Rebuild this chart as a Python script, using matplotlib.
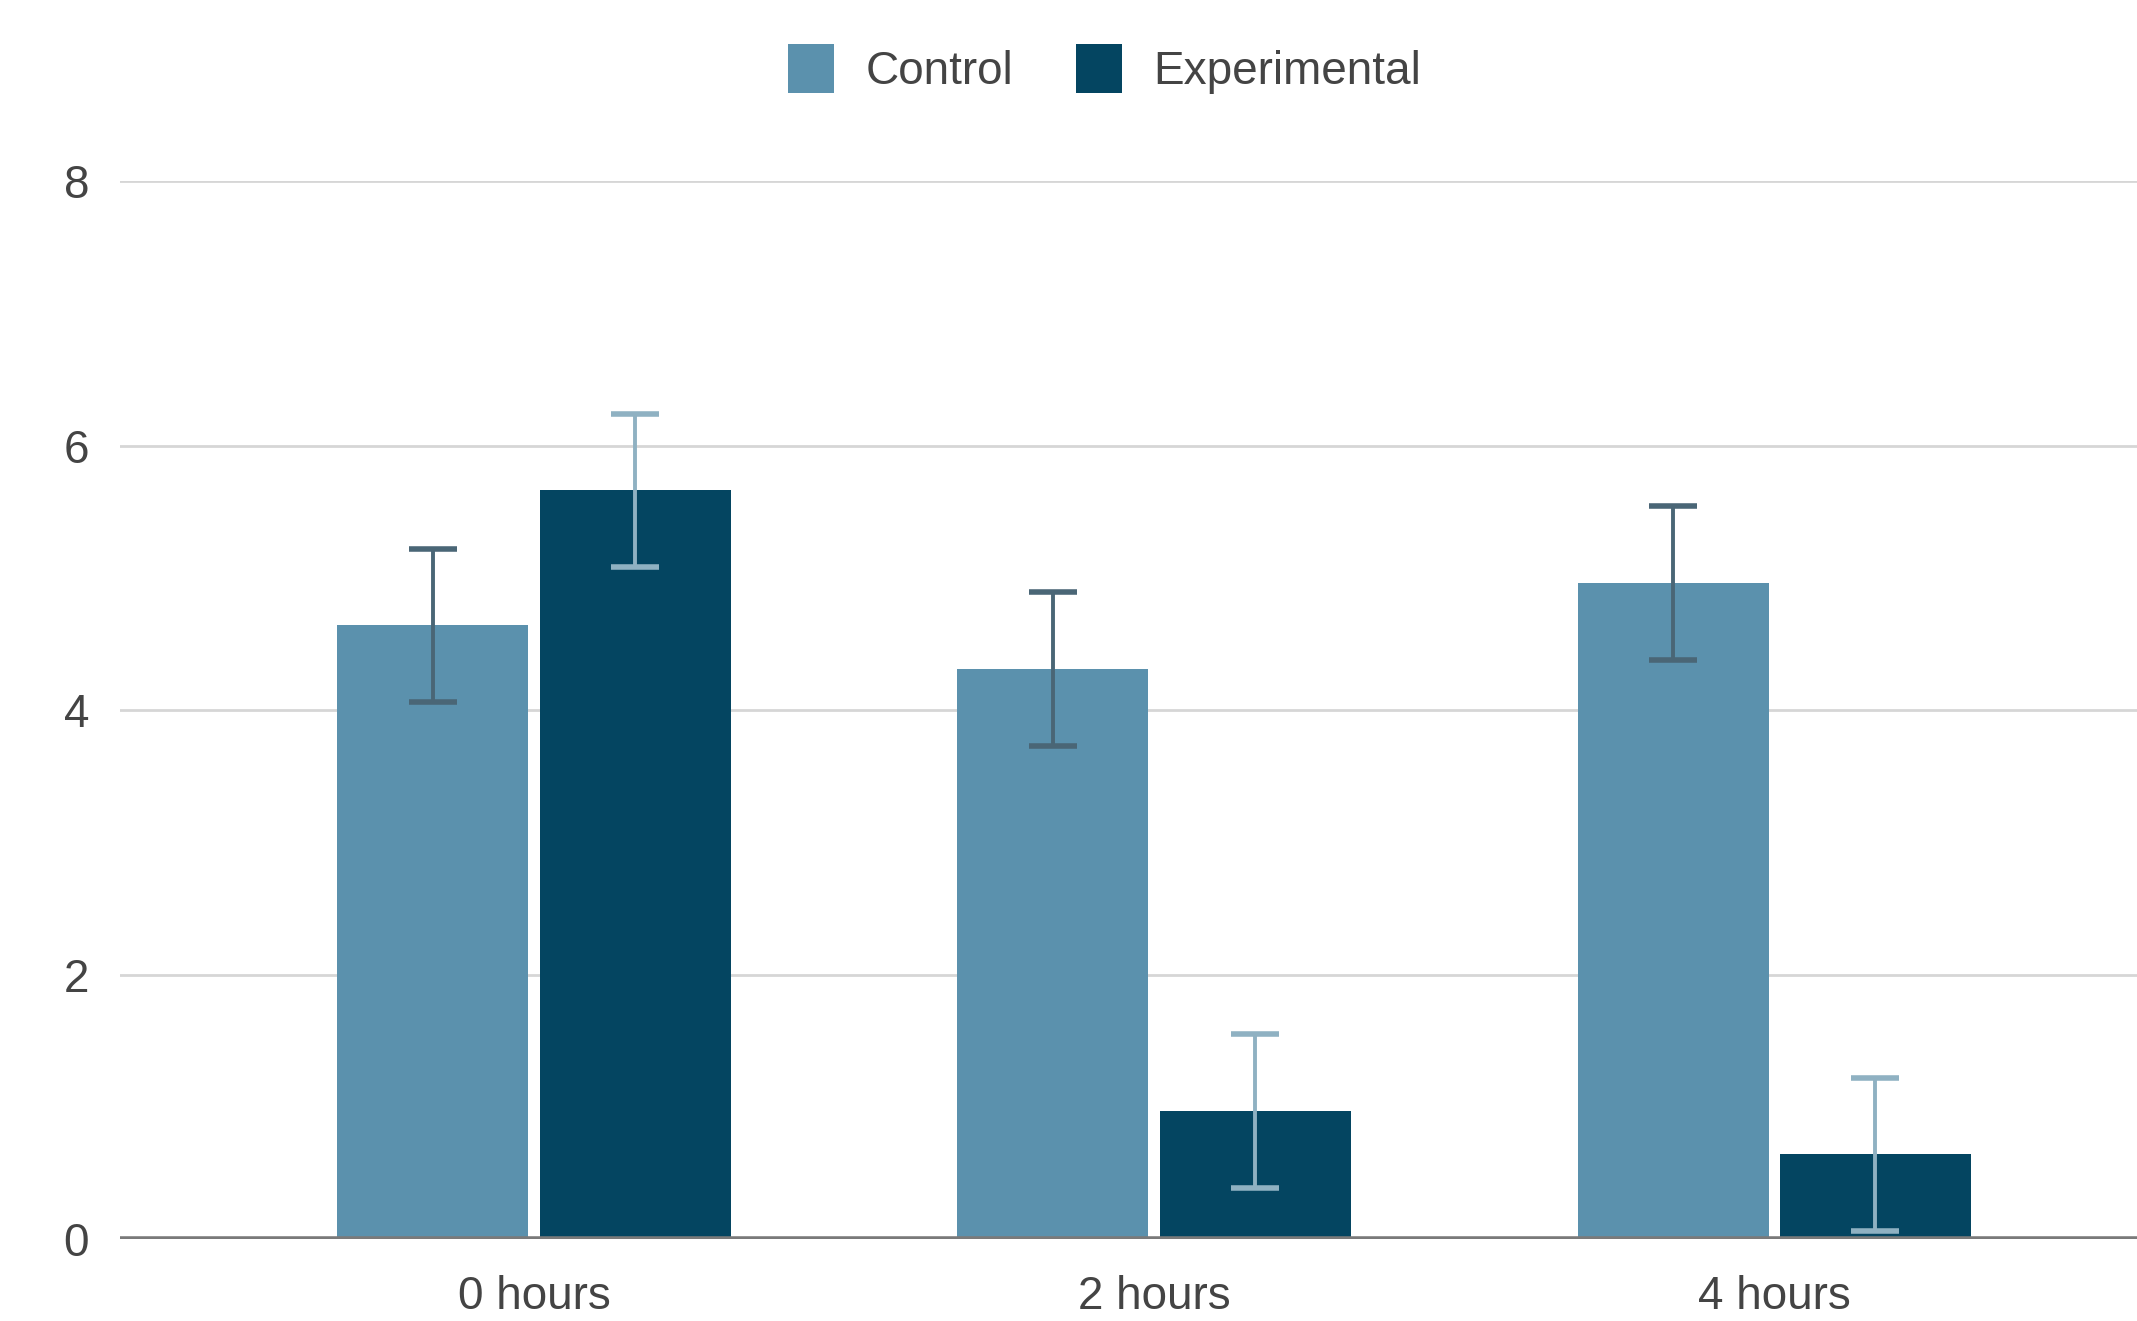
import numpy as np
import matplotlib
matplotlib.use("Agg")
import matplotlib.pyplot as plt

plt.rcParams['font.family'] = ['Liberation Sans', 'DejaVu Sans']

categories = ['0 hours', '2 hours', '4 hours']
control = [4.64, 4.31, 4.96]
experimental = [5.66, 0.97, 0.64]
control_err = [0.58, 0.58, 0.58]
experimental_err = [0.58, 0.58, 0.58]

c_control = '#5b91ad'
c_exp = '#044561'

fig = plt.figure(figsize=(21.37, 13.21), dpi=100)
ax = fig.add_axes([0.056, 0.062, 0.944, 0.801])

x = np.arange(len(categories))
w = 0.308
gap = 0.009
ax.bar(x - w / 2 - gap, control, w, color=c_control, label='Control', zorder=2)
ax.bar(x + w / 2 + gap, experimental, w, color=c_exp, label='Experimental', zorder=2)

ax.errorbar(x - w / 2 - gap, control, yerr=control_err, fmt='none',
            ecolor='#4a6676', elinewidth=2.8, capsize=17, capthick=4, zorder=3)
ax.errorbar(x + w / 2 + gap, experimental, yerr=experimental_err, fmt='none',
            ecolor='#8fb1c2', elinewidth=2.8, capsize=17, capthick=4, zorder=3)

ax.set_xlim(-0.668, 2.585)
ax.set_ylim(0, 8)
ax.set_yticks([0, 2, 4, 6, 8])
ax.set_xticks(x)
ax.set_xticklabels(categories)
ax.yaxis.grid(True, color='#d6d6d6', linewidth=2, zorder=0)
ax.axhline(0, color='#7a7a7a', linewidth=4, zorder=4)

for s in ax.spines.values():
    s.set_visible(False)
ax.tick_params(axis='both', length=0, labelsize=33, labelcolor='#444444')
ax.tick_params(axis='y', pad=22)
ax.tick_params(axis='x', pad=26)

ax.legend(loc='center', bbox_to_anchor=(0.517, 0.948), bbox_transform=fig.transFigure,
          ncol=2, frameon=False, fontsize=33, labelcolor='#444444',
          handlelength=1.0, handleheight=1.3, handletextpad=0.7, columnspacing=1.35)

fig.savefig('out.png', dpi=100)
